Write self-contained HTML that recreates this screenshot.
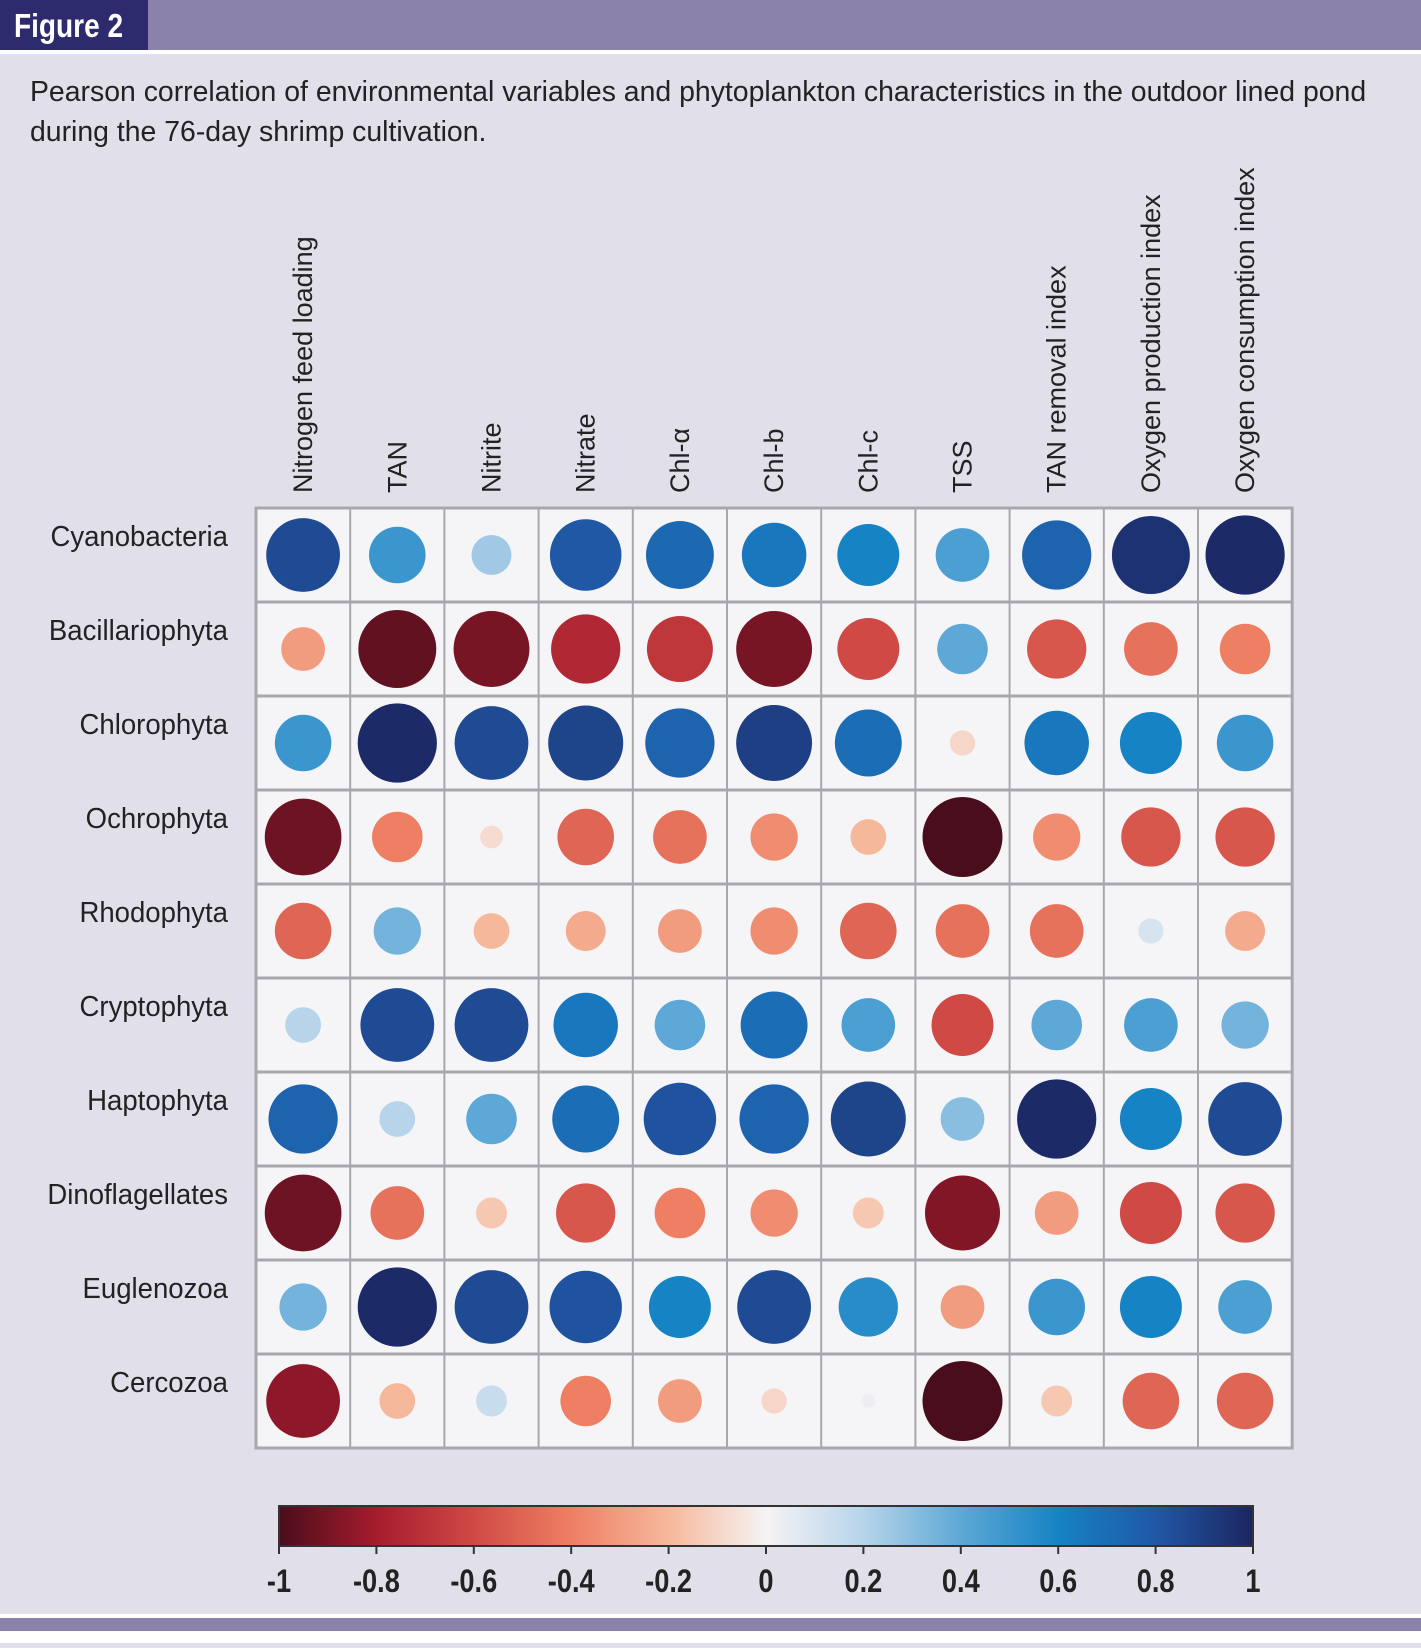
<!DOCTYPE html>
<html><head><meta charset="utf-8"><style>
body{margin:0;width:1421px;height:1643px;background:#e1e0ea;overflow:hidden;font-family:"Liberation Sans",sans-serif}
</style></head><body>
<svg width="1421" height="1643" xmlns="http://www.w3.org/2000/svg">
<defs>
<linearGradient id="cbg" x1="0" x2="1" y1="0" y2="0">
<stop offset="0" stop-color="#4a0d1c"/><stop offset="0.1" stop-color="#a51c2d"/><stop offset="0.2" stop-color="#cf4a45"/><stop offset="0.3" stop-color="#ee7f63"/><stop offset="0.4" stop-color="#f6b89b"/><stop offset="0.5" stop-color="#f5f3f4"/><stop offset="0.6" stop-color="#b7d4ea"/><stop offset="0.7" stop-color="#5da8d6"/><stop offset="0.8" stop-color="#1683c4"/><stop offset="0.9" stop-color="#2058a6"/><stop offset="1" stop-color="#1c2560"/>
</linearGradient>
</defs>
<rect x="0" y="0" width="1421" height="50" fill="#8b82ac"/>
<rect x="0" y="0" width="148" height="50" fill="#2e2a6e"/>
<text x="14" y="37" font-size="33" font-weight="bold" fill="#fff" transform="scale(0.85,1)" transform-origin="14 37">Figure 2</text>
<rect x="0" y="50" width="1421" height="4" fill="#fff"/>
<g font-size="29" fill="#222">
<text x="30" y="101" transform="scale(0.98,1)" transform-origin="30 101">Pearson correlation of environmental variables and phytoplankton characteristics in the outdoor lined pond</text>
<text x="30" y="141" transform="scale(0.98,1)" transform-origin="30 141">during the 76-day shrimp cultivation.</text>
</g>
<g id="chart"></g>
<rect x="0" y="1614" width="1421" height="4" fill="#fff"/>
<rect x="0" y="1618" width="1421" height="13" fill="#8b82ac"/>
<rect x="0" y="1631" width="1421" height="12" fill="#fff"/>
</svg>
<script>
const rows=["Cyanobacteria","Bacillariophyta","Chlorophyta","Ochrophyta","Rhodophyta","Cryptophyta","Haptophyta","Dinoflagellates","Euglenozoa","Cercozoa"];
const cols=["Nitrogen feed loading","TAN","Nitrite","Nitrate","Chl-α","Chl-b","Chl-c","TSS","TAN removal index","Oxygen production index","Oxygen consumption index"];
const vCyanobacteria=[0.85,0.5,0.25,0.8,0.72,0.65,0.6,0.45,0.75,0.95,0.98];
const vBacillariophyta=[-0.3,-0.95,-0.9,-0.75,-0.68,-0.9,-0.6,0.4,-0.55,-0.45,-0.4];
const vChlorophyta=[0.5,0.98,0.85,0.88,0.75,0.9,0.7,-0.1,0.65,0.6,0.5];
const vOchrophyta=[-0.92,-0.4,-0.08,-0.5,-0.45,-0.35,-0.2,-1,-0.35,-0.55,-0.55];
const vRhodophyta=[-0.5,0.35,-0.2,-0.25,-0.3,-0.35,-0.5,-0.45,-0.45,0.1,-0.25];
const vCryptophyta=[0.2,0.85,0.85,0.65,0.4,0.7,0.45,-0.6,0.4,0.45,0.35];
const vHaptophyta=[0.75,0.2,0.4,0.7,0.82,0.75,0.88,0.3,0.98,0.6,0.85];
const vDinoflagellates=[-0.92,-0.45,-0.15,-0.55,-0.4,-0.35,-0.15,-0.88,-0.3,-0.6,-0.55];
const vEuglenozoa=[0.35,0.98,0.85,0.82,0.6,0.85,0.55,-0.3,0.5,0.6,0.45];
const vCercozoa=[-0.85,-0.2,0.15,-0.4,-0.3,-0.1,0.03,-1,-0.15,-0.5,-0.5];
const values=[vCyanobacteria,vBacillariophyta,vChlorophyta,vOchrophyta,vRhodophyta,vCryptophyta,vHaptophyta,vDinoflagellates,vEuglenozoa,vCercozoa];
const ticks=["-1","-0.8","-0.6","-0.4","-0.2","0","0.2","0.4","0.6","0.8","1"];

const NS="http://www.w3.org/2000/svg";
const g=document.getElementById('chart');
const L=256,T=508,CW=94.2,RH=94;
const xC=i=>L+CW*(i+0.5), yC=j=>T+RH*(j+0.5);
const stops=[[-1,[74,13,28]],[-0.8,[165,28,45]],[-0.6,[207,74,69]],[-0.4,[238,127,99]],[-0.2,[246,184,155]],[0,[245,243,244]],[0.2,[183,212,234]],[0.4,[93,168,214]],[0.6,[22,131,196]],[0.8,[32,88,166]],[1,[28,37,96]]];
function color(v){for(let k=0;k<stops.length-1;k++){const a=stops[k],b=stops[k+1];if(v<=b[0]){const t=(v-a[0])/(b[0]-a[0]);return 'rgb('+a[1].map((c,i)=>Math.round(c+(b[1][i]-c)*t)).join(',')+')';}}return 'rgb(28,37,96)';}
function el(n,a){const e=document.createElementNS(NS,n);for(const k in a)e.setAttribute(k,a[k]);g.appendChild(e);return e;}

const bg=el('rect',{x:L,y:T,width:CW*cols.length,height:RH*rows.length,fill:'#f5f5f8',stroke:'#a9a7ae','stroke-width':3});


for(let i=1;i<cols.length;i++){const ln=el('line',{x1:L+CW*i,x2:L+CW*i,y1:T,y2:T+RH*rows.length,stroke:'#a9a7ae','stroke-width':2});

}
for(let j=1;j<rows.length;j++){const ln=el('line',{x1:L,x2:L+CW*cols.length,y1:T+RH*j,y2:T+RH*j,stroke:'#a9a7ae','stroke-width':3});

}

rows.forEach((r,j)=>{
 const t=el('text',{x:228,y:yC(j)-9,'font-size':29,fill:'#222','text-anchor':'end',transform:'scale(0.95,1)','transform-origin':'228 '+(yC(j)-9)});
 t.textContent=r;
 
 
 values[j].forEach((v,i)=>{
  const c=el('circle',{cx:xC(i),cy:yC(j),r:40*Math.sqrt(Math.abs(v)),fill:color(v)});
  
  
 });
});
cols.forEach((c,i)=>{
 const x=xC(i)+9,y=493;
 const t=el('text',{x:0,y:0,'font-size':27,fill:'#222',transform:'translate('+x+','+y+') rotate(-90)'});
 t.textContent=c;
 
 
});
// colorbar
const cbL=279,cbR=1253,cbT=1506,cbB=1546;
const cb=el('rect',{x:cbL,y:cbT,width:cbR-cbL,height:cbB-cbT,fill:'url(#cbg)',stroke:'#333','stroke-width':2});


ticks.forEach((tk,k)=>{
 const x=cbL+(cbR-cbL)*(parseFloat(tk)+1)/2;
 const l=el('line',{x1:x,x2:x,y1:cbB,y2:cbB+8,stroke:'#333','stroke-width':2});
 
 
 const t=el('text',{x:x,y:1592,'font-size':32,'font-weight':'bold',fill:'#222','text-anchor':'middle',transform:'scale(0.85,1)','transform-origin':x+' 1592'});
 t.textContent=tk;
 
 
});
</script>
</body></html>
